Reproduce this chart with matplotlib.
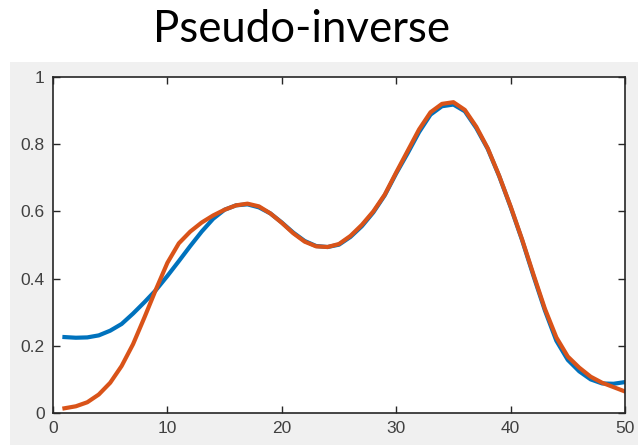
import matplotlib
matplotlib.use("Agg")
from matplotlib import pyplot as plt
from matplotlib.patches import Rectangle

# Sample index and the two reconstructed signals
x_vals = list(range(1, 51))
blue_vals = [0.226, 0.224, 0.225, 0.231, 0.245, 0.265, 0.296, 0.330, 0.366, 0.408,
             0.452, 0.497, 0.540, 0.578, 0.605, 0.618, 0.621, 0.612, 0.594, 0.567,
             0.537, 0.512, 0.497, 0.494, 0.501, 0.524, 0.556, 0.597, 0.648, 0.713,
             0.773, 0.836, 0.888, 0.913, 0.918, 0.898, 0.848, 0.786, 0.705, 0.613,
             0.515, 0.408, 0.305, 0.215, 0.158, 0.124, 0.100, 0.088, 0.087, 0.092]
orange_vals = [0.014, 0.020, 0.032, 0.055, 0.090, 0.140, 0.205, 0.285, 0.368, 0.447,
               0.505, 0.540, 0.567, 0.588, 0.605, 0.618, 0.623, 0.615, 0.594, 0.566,
               0.535, 0.510, 0.496, 0.494, 0.503, 0.527, 0.560, 0.600, 0.650, 0.716,
               0.780, 0.844, 0.895, 0.920, 0.925, 0.902, 0.852, 0.788, 0.706, 0.615,
               0.517, 0.412, 0.310, 0.225, 0.168, 0.135, 0.108, 0.090, 0.077, 0.064]

x_ticks = [0, 10, 20, 30, 40, 50]
y_ticks = [0, 0.2, 0.4, 0.6, 0.8, 1]
y_tick_labels = ["0", "0.2", "0.4", "0.6", "0.8", "1"]

fig = plt.figure(figsize=(6.38, 4.45), dpi=100)
fig.patch.set_facecolor("white")

# grey MATLAB figure background under the title
fig.patches.append(Rectangle((10 / 638, 0), 628 / 638, 383 / 445,
                             transform=fig.transFigure, facecolor="#f0f0f0",
                             edgecolor="none", zorder=0))

fig.text(0.472, 0.906, "Pseudo-inverse", family="Lato", fontsize=31.5,
         ha="center", va="baseline", color="black")

ax = fig.add_axes([53 / 638, 32 / 445, 572 / 638, 336 / 445])
ax.set_zorder(2)
ax.set_facecolor("white")

ax.plot(x_vals, blue_vals, color="#0072bd", linewidth=3, solid_joinstyle="round")
ax.plot(x_vals, orange_vals, color="#d95319", linewidth=3, solid_joinstyle="round")

ax.set_xlim(0, 50)
ax.set_ylim(0, 1)
ax.set_xticks(x_ticks)
ax.set_yticks(y_ticks)
ax.set_yticklabels(y_tick_labels)

for spine in ax.spines.values():
    spine.set_color("#262626")
    spine.set_linewidth(1.2)

ax.tick_params(direction="in", length=5, width=1, color="#262626",
               top=True, right=True, labelsize=12.5, labelcolor="#404040", pad=6)
for lbl in ax.get_xticklabels() + ax.get_yticklabels():
    lbl.set_family("Liberation Sans")

fig.savefig("out.png", dpi=100)
